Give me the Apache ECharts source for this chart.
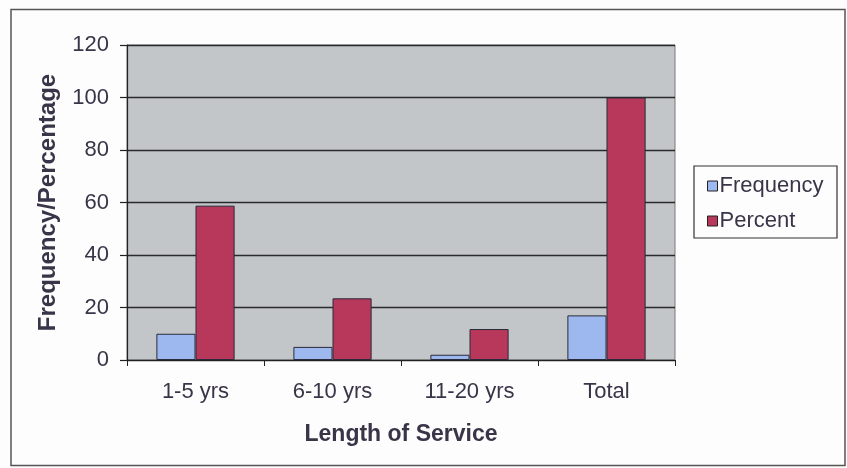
<!DOCTYPE html>
<html>
<head>
<meta charset="utf-8">
<script src="https://cdn.jsdelivr.net/npm/echarts@6/dist/echarts.min.js"></script>
<style>
  html, body { margin: 0; padding: 0; background: #fdfdfd; }
  #chart { width: 847px; height: 468px; }
</style>
</head>
<body>
<div id="chart"></div>
<script>
// Length of service breakdown
const categories = ['1-5 yrs', '6-10 yrs', '11-20 yrs', 'Total'];
const frequency = [10, 5, 2, 17];
const percent = [58.8, 23.5, 11.8, 100];
const yTicks = [0, 20, 40, 60, 80, 100, 120];

const FONT = '"Liberation Sans", Arial, sans-serif';
const TEXT = '#3a3448';

const chart = echarts.init(document.getElementById('chart'), null, { renderer: 'canvas' });

chart.setOption({
  animation: false,
  backgroundColor: '#fdfdfd',
  textStyle: { fontFamily: FONT },
  graphic: [
    {
      type: 'rect',
      shape: { x: 11, y: 9.5, width: 834, height: 456 },
      style: { fill: 'none', stroke: '#555', lineWidth: 1.5 },
      z: 0
    },
    {
      type: 'rect',
      shape: { x: 694, y: 166, width: 143, height: 72 },
      style: { fill: '#fdfdfd', stroke: '#333', lineWidth: 1.2 },
      z: 1
    }
  ],
  grid: {
    left: 127, right: 172, top: 45, bottom: 108,
    show: true,
    backgroundColor: '#c2c6c8',
    borderColor: '#7a7a7a',
    borderWidth: 1
  },
  legend: {
    orient: 'vertical',
    left: 702, top: 170,
    itemWidth: 10, itemHeight: 10,
    itemGap: 13,
    icon: 'rect',
    itemStyle: { borderColor: '#222', borderWidth: 1 },
    textStyle: { fontFamily: FONT, fontSize: 22, color: TEXT, padding: [0, 0, 0, -3] },
    data: ['Frequency', 'Percent']
  },
  xAxis: {
    type: 'category',
    data: categories,
    name: 'Length of Service',
    nameLocation: 'middle',
    nameGap: 63,
    nameTextStyle: { fontFamily: FONT, fontSize: 23, fontWeight: 'bold', color: TEXT },
    axisLine: { lineStyle: { color: '#222', width: 1.2 } },
    axisTick: { show: true, length: 6, lineStyle: { color: '#222' } },
    axisLabel: { fontFamily: FONT, fontSize: 22, color: TEXT, margin: 21 },
    splitLine: { show: false }
  },
  yAxis: {
    type: 'value',
    min: yTicks[0],
    max: yTicks[yTicks.length - 1],
    interval: 20,
    name: 'Frequency/Percentage',
    nameLocation: 'middle',
    nameGap: 67,
    nameTextStyle: { fontFamily: FONT, fontSize: 24, fontWeight: 'bold', color: TEXT },
    axisLine: { show: true, lineStyle: { color: '#222', width: 1.2 } },
    axisTick: { show: true, length: 7, lineStyle: { color: '#222', width: 1.2 } },
    axisLabel: { fontFamily: FONT, fontSize: 22, color: TEXT, margin: 18 },
    splitLine: {
      show: true,
      lineStyle: { color: '#2a2a2a', width: 1.3 }
    }
  },
  series: [
    {
      name: 'Frequency',
      type: 'bar',
      data: frequency,
      barGap: '0%',
      barCategoryGap: '42.9%',
      itemStyle: { color: '#9db8ef', borderColor: '#2a2a3a', borderWidth: 1 }
    },
    {
      name: 'Percent',
      type: 'bar',
      data: percent,
      barGap: '0%',
      barCategoryGap: '42.9%',
      itemStyle: { color: '#b7385a', borderColor: '#2a2a3a', borderWidth: 1 }
    }
  ]
});
</script>
</body>
</html>
